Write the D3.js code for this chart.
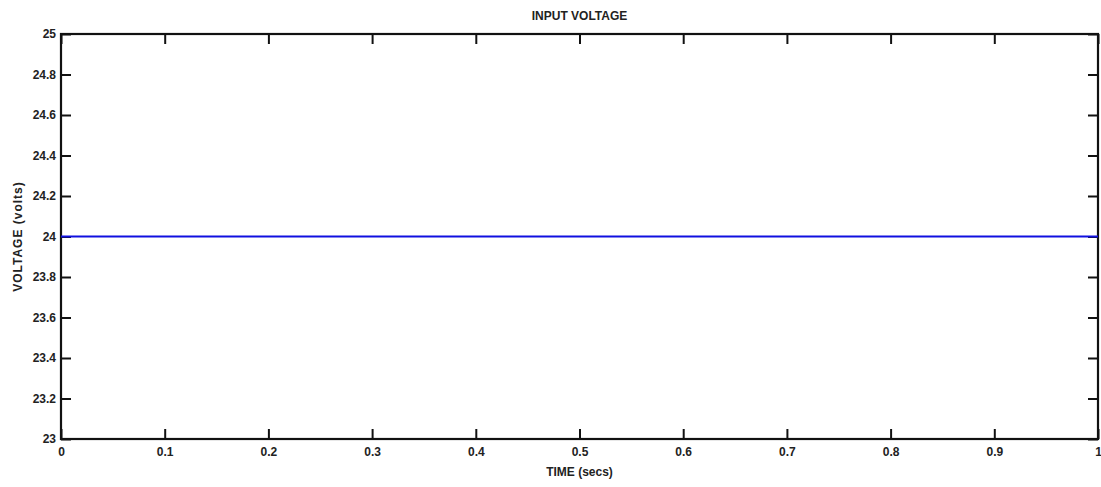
<!DOCTYPE html>
<html>
<head>
<meta charset="utf-8">
<script src="https://cdn.jsdelivr.net/npm/d3@7"></script>
<style>
  body { margin: 0; background: #fff; }
  svg text { font-family: "Liberation Sans Narrow", "Arial Narrow", "Liberation Sans", Arial, sans-serif; font-weight: bold; fill: #222; }
</style>
</head>
<body>
<svg id="chart" width="1101" height="487"></svg>
<script>
// Input voltage over time
var time = [0, 0.25, 0.5, 0.75, 1];
var voltage = [24, 24, 24, 24, 24];
var xTicks = [0, 0.1, 0.2, 0.3, 0.4, 0.5, 0.6, 0.7, 0.8, 0.9, 1];
var yTicks = [23, 23.2, 23.4, 23.6, 23.8, 24, 24.2, 24.4, 24.6, 24.8, 25];

var svg = d3.select("#chart");
var m = { left: 61, right: 1098, top: 34, bottom: 439 };

var x = d3.scaleLinear().domain([0, 1]).range([m.left, m.right]);
var y = d3.scaleLinear().domain([23, 25]).range([m.bottom, m.top]);
var fmt = function (d) { return String(+d.toFixed(1)); };

// tick marks inside on all four sides
var tk = 10;
var axBottom = svg.append("g").attr("transform", "translate(0," + m.bottom + ")")
    .call(d3.axisBottom(x).tickValues(xTicks).tickFormat(fmt).tickSizeInner(-tk).tickSizeOuter(0).tickPadding(6));
var axTop = svg.append("g").attr("transform", "translate(0," + m.top + ")")
    .call(d3.axisTop(x).tickValues(xTicks).tickFormat("").tickSizeInner(-tk).tickSizeOuter(0));
var axLeft = svg.append("g").attr("transform", "translate(" + m.left + ",0)")
    .call(d3.axisLeft(y).tickValues(yTicks).tickFormat(fmt).tickSizeInner(-tk).tickSizeOuter(0).tickPadding(4));
var axRight = svg.append("g").attr("transform", "translate(" + m.right + ",0)")
    .call(d3.axisRight(y).tickValues(yTicks).tickFormat("").tickSizeInner(-tk).tickSizeOuter(0));

[axBottom, axTop, axLeft, axRight].forEach(function (g) {
    g.select(".domain").remove();
    g.selectAll(".tick line").attr("stroke", "#111").attr("stroke-width", 2);
    g.selectAll("text").style("font-size", "12px").attr("fill", "#222");
});
axBottom.selectAll("text").attr("dy", "0.9em");
axLeft.selectAll("text").attr("dx", "-1");

// frame
svg.append("rect")
    .attr("x", m.left).attr("y", m.top)
    .attr("width", m.right - m.left).attr("height", m.bottom - m.top)
    .attr("fill", "none").attr("stroke", "#111").attr("stroke-width", 2.2);

// series
var line = d3.line().x(function (d, i) { return x(time[i]); }).y(function (d) { return y(d); });
svg.append("path").datum(voltage)
    .attr("d", line)
    .attr("fill", "none").attr("stroke", "#1010e0").attr("stroke-width", 2);

// labels
svg.append("text").attr("x", (m.left + m.right) / 2).attr("y", 20)
    .attr("text-anchor", "middle").style("font-size", "12px").text("INPUT VOLTAGE");
svg.append("text").attr("x", (m.left + m.right) / 2).attr("y", 476)
    .attr("text-anchor", "middle").style("font-size", "12px").text("TIME (secs)");
svg.append("text").attr("transform", "translate(22," + ((m.top + m.bottom) / 2) + ") rotate(-90)")
    .attr("text-anchor", "middle").style("font-size", "12px").style("letter-spacing", "1px")
    .text("VOLTAGE  (volts)");
</script>
</body>
</html>
